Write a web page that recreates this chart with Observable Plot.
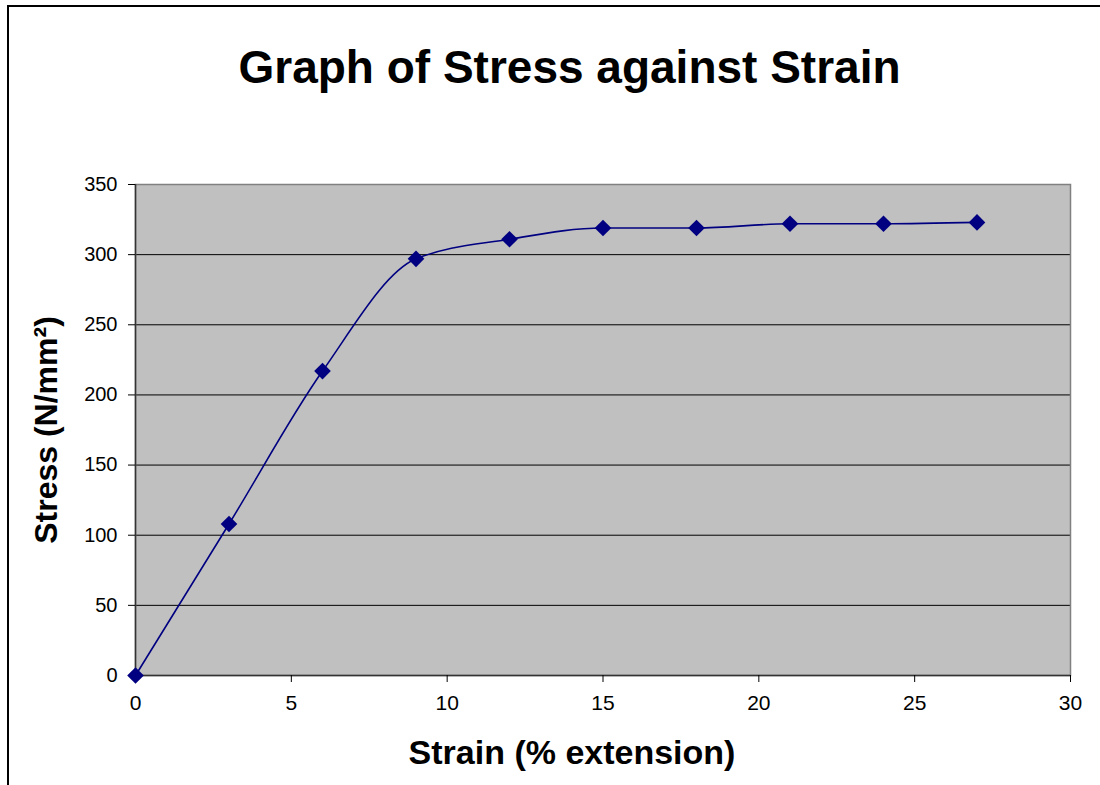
<!DOCTYPE html>
<html>
<head>
<meta charset="utf-8">
<script src="https://cdn.jsdelivr.net/npm/d3@7"></script>
<script src="https://cdn.jsdelivr.net/npm/@observablehq/plot@0.6"></script>
<style>
  html, body { margin: 0; padding: 0; background: #fff; }
  #wrap { position: relative; width: 1100px; height: 785px; overflow: hidden; font-family: Arial, "Liberation Sans", sans-serif; }
  #border { position: absolute; left: 7px; top: 5px; right: -10px; bottom: -10px; border-left: 2px solid #000; border-top: 2px solid #000; }
  #title { position: absolute; left: 0; width: 1139px; top: 44px; text-align: center; font-size: 46px; font-weight: bold; line-height: 1; color: #000; }
  #chart { position: absolute; left: 0; top: 160px; }
</style>
</head>
<body>
<div id="wrap">
  <div id="border"></div>
  <div id="title">Graph of Stress against Strain</div>
  <div id="chart"></div>
</div>
<script>
const strain = [0, 3, 6, 9, 12, 15, 18, 21, 24, 27];
const stress = [0, 108, 217, 297, 311, 319, 319, 322, 322, 323];
const xTicks = [0, 5, 10, 15, 20, 25, 30];
const yTicks = [0, 50, 100, 150, 200, 250, 300, 350];
const xLabel = "Strain (% extension)";
const yLabel = "Stress (N/mm²)";

const data = strain.map((s, i) => ({strain: s, stress: stress[i]}));

const chart = Plot.plot({
  width: 1100,
  height: 625,
  marginLeft: 135,
  marginRight: 30,
  marginTop: 24,
  marginBottom: 110,
  style: {fontFamily: "Arial, 'Liberation Sans', sans-serif", background: "transparent", color: "#000", overflow: "visible"},
  x: {domain: [0, 30]},
  y: {domain: [0, 350]},
  marks: [
    Plot.frame({fill: "#c0c0c0", stroke: null}),
    Plot.gridY(yTicks.filter(t => t > 0 && t < 350), {stroke: "#000", strokeOpacity: 1, strokeWidth: 1}),
    Plot.frame({stroke: "#808080", strokeWidth: 1.5}),
    Plot.ruleY([0], {stroke: "#333", strokeWidth: 1.5}),
    Plot.ruleX([0], {stroke: "#333", strokeWidth: 1.5}),
    Plot.axisX({ticks: xTicks, tickSize: 7, tickPadding: 13, fontSize: 21, label: null, stroke: "#000"}),
    Plot.axisY({ticks: yTicks, tickSize: 7, tickPadding: 11, fontSize: 20, label: null, stroke: "#000"}),
    Plot.line(data, {x: "strain", y: "stress", curve: "monotone-x", stroke: "#000080", strokeWidth: 1.6}),
    Plot.dot(data, {x: "strain", y: "stress", symbol: "diamond2", r: 7.5, fill: "#000080", stroke: null}),
    Plot.text([xLabel], {text: d => d, frameAnchor: "bottom", dx: -31, dy: 88, fontSize: 34, fontWeight: "bold", fill: "#000"}),
    Plot.text([yLabel], {text: d => d, frameAnchor: "left", textAnchor: "middle", dx: -89, rotate: -90, fontSize: 32, fontWeight: "bold", fill: "#000"})
  ]
});
document.getElementById("chart").appendChild(chart);
</script>
</body>
</html>
